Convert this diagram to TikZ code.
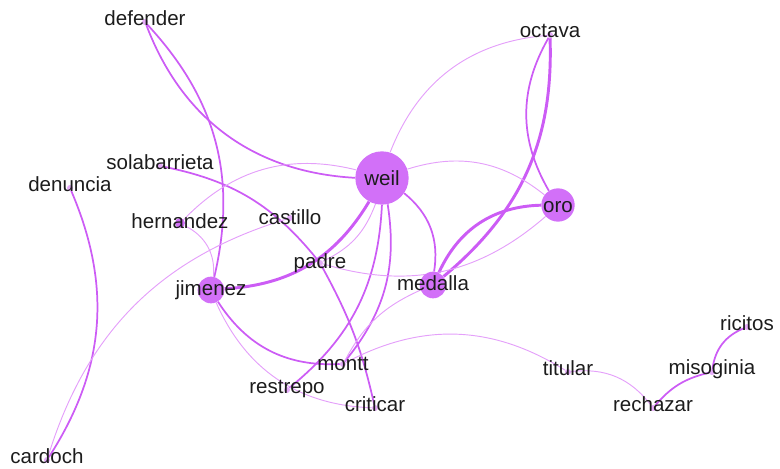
\documentclass[tikz,border=0pt]{standalone}
\usepackage{fontspec}
\setmainfont{Liberation Sans}
\usepackage{tikz}
\usetikzlibrary{backgrounds}

\definecolor{hubpurple}{RGB}{210,112,248}
\definecolor{dotpurple}{RGB}{230,172,250}
\definecolor{linkpurple}{RGB}{204,92,245}
\definecolor{linklight}{RGB}{228,160,250}
\definecolor{wordgray}{RGB}{28,28,28}

\begin{document}
\begin{tikzpicture}[
    x=0.75pt, y=0.75pt,
    hub/.style={circle, fill=hubpurple, inner sep=0pt, minimum size=#1},
    hub/.default={20pt},
    term/.style={circle, fill=dotpurple, inner sep=0pt, minimum size=4.5pt},
    word/.style={font=\fontsize{15.4}{18}\selectfont, text=wordgray, inner sep=0pt, anchor=base, yshift=#1},
    word/.default={2.8pt},
    link/.style={draw=linkpurple, line width=#1},
    link/.default={1.3pt},
    faint/.style={draw=linklight, line width=0.7pt}
]
\useasboundingbox (0,0) rectangle (780,468);

% === NODOS GRANDES ===
\node[hub=40pt, label={[word=-0.2pt]center:weil}] (weil) at (382,290) {};
\node[hub=25pt, label={[word=-1.5pt]center:oro}] (oro) at (558,263) {};
\node[hub, label={[word=1.2pt]center:medalla}] (medalla) at (433,183) {};
\node[hub, label={[word=-0.5pt]center:jimenez}] (jimenez) at (211,178) {};
\node[hub=7.5pt, label={[word=1.5pt]center:hernandez}] (hernandez) at (180,245) {};

% === NODOS PEQUEÑOS ===
\node[term, label={[word]center:octava}] (octava) at (550,433) {};
\node[term, label={[word]center:defender}] (defender) at (145,446) {};
\node[term, label={[word]center:solabarrieta}] (solabarrieta) at (160,302) {};
\node[term, label={[word]center:denuncia}] (denuncia) at (70,280) {};
\node[term, label={[word=0.5pt]center:castillo}] (castillo) at (290,250) {};
\node[term, label={[word=0pt]center:padre}] (padre) at (320,205) {};
\node[term, label={[word=0pt]center:montt}] (montt) at (343,104) {};
\node[term, label={[word=0.5pt]center:restrepo}] (restrepo) at (287,78) {};
\node[term, label={[word]center:criticar}] (criticar) at (375,60) {};
\node[term, label={[word]center:cardoch}] (cardoch) at (47,8) {};
\node[term, label={[word]center:titular}] (titular) at (568,96) {};
\node[term, label={[word]center:rechazar}] (rechazar) at (653,60) {};
\node[term, label={[word=2pt]center:misoginia}] (misoginia) at (712,96) {};
\node[term, label={[word]center:ricitos}] (ricitos) at (747,141) {};

% === ARISTAS ===
\begin{scope}[on background layer]
% gruesas
\draw[link=2.2pt] (weil) to[bend left=28] (jimenez);
\draw[link=2.2pt] (octava) to[bend left=26] (medalla);
\draw[link=2.2pt] (oro) to[bend right=32] (medalla);
% medias
\draw[link] (defender) to[bend right=33] (weil);
\draw[link] (defender) to[bend left=28] (jimenez);
\draw[link] (weil) to[bend left=30] (medalla);
\draw[link] (weil) to[bend left=24] (montt);
\draw[link] (weil) to[bend left=24] (restrepo);
\draw[link] (jimenez) to[bend right=30] (montt);
\draw[link] (denuncia) to[bend left=28] (cardoch);
\draw[link] (solabarrieta) to[bend left=20] (padre);
\draw[link] (padre) to[bend left=8] (criticar);
\draw[link] (octava) to[bend right=30] (oro);
\draw[link] (rechazar) to[bend left=18] (misoginia);
\draw[link] (misoginia) to[bend left=30] (ricitos);
% finas
\draw[faint] (weil) to[bend left=32] (octava);
\draw[faint] (weil) to[bend left=28] (oro);
\draw[faint] (hernandez) to[bend left=30] (weil);
\draw[faint] (weil) to[bend left=22] (padre);
\draw[faint] (hernandez) to[bend left=35] (jimenez);
\draw[faint] (castillo) to[bend right=28] (cardoch);
\draw[faint] (padre) to[bend right=29] (oro);
\draw[faint] (montt) to[bend left=19] (medalla);
\draw[faint] (montt) to[bend left=30] (titular);
\draw[faint] (titular) to[bend left=30] (rechazar);
\draw[faint] (jimenez) to[bend right=32] (criticar);
\end{scope}

\end{tikzpicture}
\end{document}
